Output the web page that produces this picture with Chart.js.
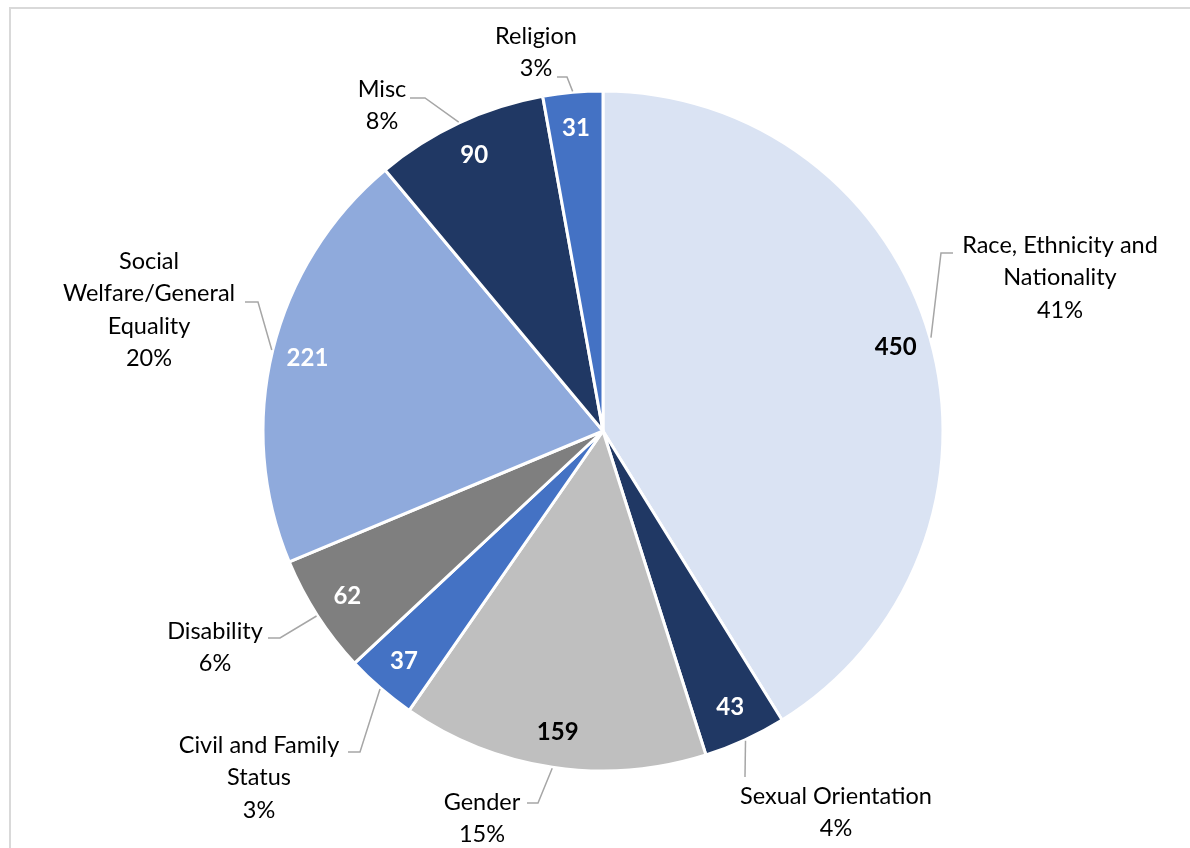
<!DOCTYPE html>
<html>
<head>
<meta charset="utf-8">
<script src="https://cdn.jsdelivr.net/npm/chart.js@4.4.0/dist/chart.umd.min.js"></script>
<style>
  html, body { margin: 0; padding: 0; background: #fff; }
  #wrap { position: relative; width: 1190px; height: 848px; }
</style>
</head>
<body>
<div id="wrap"><canvas id="pie" width="1190" height="848"></canvas></div>
<script>
// --- data ---
const categories = ['Race, Ethnicity and Nationality', 'Sexual Orientation', 'Gender', 'Civil and Family Status',
  'Disability', 'Social Welfare/General Equality', 'Misc', 'Religion'];
const counts = [450, 43, 159, 37, 62, 221, 90, 31];
const percentLabels = ['41%', '4%', '15%', '3%', '6%', '20%', '8%', '3%'];
// how the category name wraps in the outside label
const labelLines = [
  ['Race, Ethnicity and', 'Nationality'],
  ['Sexual Orientation'],
  ['Gender'],
  ['Civil and Family', 'Status'],
  ['Disability'],
  ['Social', 'Welfare/General', 'Equality'],
  ['Misc'],
  ['Religion']
];

const sliceColors = ['#DAE3F3', '#203864', '#BFBFBF', '#4472C4', '#7F7F7F', '#8FAADC', '#203864', '#4472C4'];
const valueColors = ['#000', '#fff', '#000', '#fff', '#fff', '#fff', '#fff', '#fff'];

// outside label placement, relative to the pie centre
// text: centre of first line; elbow: bend of the leader; end: where leader meets text
const labelPlace = [
  { text: [457, -186], elbow: [338, -178], end: [350, -178] },
  { text: [233, 365], elbow: null, end: [142, 346] },
  { text: [-121, 371], elbow: [-65, 372], end: [-76, 372] },
  { text: [-344, 314], elbow: [-243, 321], end: [-255, 321] },
  { text: [-388, 200], elbow: [-323, 207], end: [-335, 207] },
  { text: [-454, -170], elbow: [-345, -129], end: [-358, -129] },
  { text: [-221, -342], elbow: [-178, -333], end: [-193, -333] },
  { text: [-67, -395], elbow: [-36, -354], end: [-46, -354] }
];

const FONT = 'Lato, "Open Sans", sans-serif';

const framePlugin = {
  id: 'frame',
  beforeDraw(chart) {
    const ctx = chart.ctx;
    ctx.save();
    ctx.strokeStyle = '#D9D9D9';
    ctx.lineWidth = 2;
    ctx.beginPath();
    ctx.moveTo(10, 848);
    ctx.lineTo(10, 8);
    ctx.lineTo(1190, 8);
    ctx.stroke();
    ctx.restore();
  }
};

const labelsPlugin = {
  id: 'pieLabels',
  afterDatasetsDraw(chart) {
    const ctx = chart.ctx;
    const meta = chart.getDatasetMeta(0);
    ctx.save();
    meta.data.forEach((arc, i) => {
      const cx = arc.x, cy = arc.y;
      const mid = (arc.startAngle + arc.endAngle) / 2;
      const R = arc.outerRadius;

      // value inside slice
      const rv = R * 0.895;
      ctx.font = 'bold 24px ' + FONT;
      ctx.fillStyle = valueColors[i];
      ctx.textAlign = 'center';
      ctx.textBaseline = 'middle';
      ctx.fillText(String(counts[i]), cx + Math.cos(mid) * rv, cy + Math.sin(mid) * rv);

      // leader line
      const p = labelPlace[i];
      ctx.strokeStyle = '#A6A6A6';
      ctx.lineWidth = 1.5;
      ctx.beginPath();
      ctx.moveTo(cx + Math.cos(mid) * (R + 1), cy + Math.sin(mid) * (R + 1));
      if (p.elbow) ctx.lineTo(cx + p.elbow[0], cy + p.elbow[1]);
      ctx.lineTo(cx + p.end[0], cy + p.end[1]);
      ctx.stroke();

      // category name + percent
      ctx.font = '23.5px ' + FONT;
      ctx.fillStyle = '#000';
      const lines = labelLines[i].concat([percentLabels[i]]);
      lines.forEach((t, k) => {
        ctx.fillText(t, cx + p.text[0], cy + p.text[1] + k * 32.5);
      });
    });
    ctx.restore();
  }
};

new Chart(document.getElementById('pie'), {
  type: 'pie',
  data: {
    labels: categories,
    datasets: [{
      data: counts,
      backgroundColor: sliceColors,
      borderColor: '#ffffff',
      borderWidth: 3
    }]
  },
  options: {
    responsive: false,
    animation: false,
    radius: 340,
    layout: { padding: { left: 16, top: 14, right: 0, bottom: 0 } },
    plugins: {
      legend: { display: false },
      tooltip: { enabled: false }
    }
  },
  plugins: [framePlugin, labelsPlugin]
});
</script>
</body>
</html>
